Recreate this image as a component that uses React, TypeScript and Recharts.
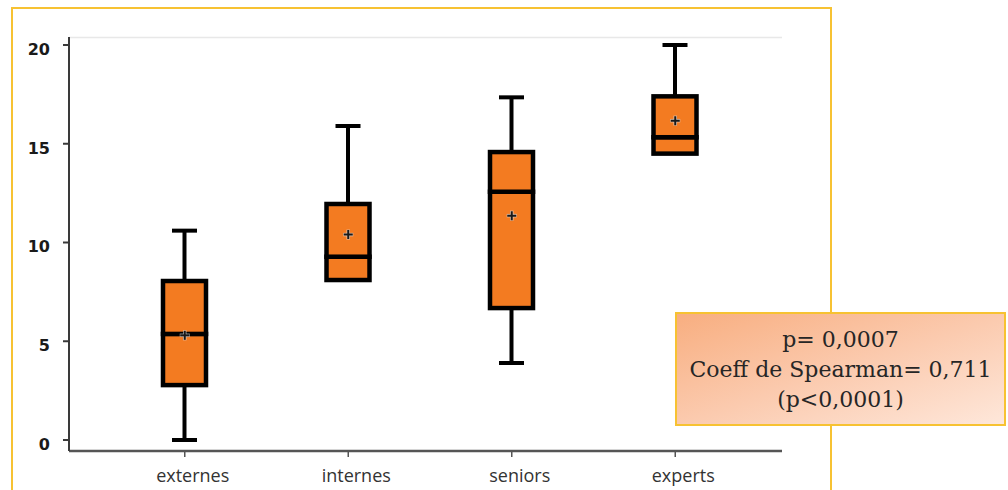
import React from 'react';
import { ComposedChart, Bar, Line, XAxis, YAxis, ReferenceLine } from 'recharts';

const categories = ['externes', 'internes', 'seniors', 'experts'];
const minValues = [0, 8.1, 3.9, 14.5];
const q1Values = [2.78, 8.1, 6.68, 14.5];
const medianValues = [5.37, 9.28, 12.57, 15.33];
const q3Values = [8.05, 11.95, 14.58, 17.4];
const maxValues = [10.6, 15.9, 17.35, 20];
const meanValues = [5.3, 10.4, 11.36, 16.17];
const yTicks = [0, 5, 10, 15, 20];
const annotationLines = ['p= 0,0007', 'Coeff de Spearman= 0,711', '(p<0,0001)'];

const data = categories.map((name, i) => ({
  name,
  base: minValues[i],
  lowWhisker: q1Values[i] - minValues[i],
  lowBox: medianValues[i] - q1Values[i],
  highBox: q3Values[i] - medianValues[i],
  highWhisker: maxValues[i] - q3Values[i],
  mean: meanValues[i],
}));

const BOX_FILL = '#f37b21';
const CAP = 12.5;
const SW = 4.5;

const EmptyShape = () => <g />;

const BoxShape = (props: any) => {
  const { x, y, width, height } = props;
  if (!height || height <= 0) return <g />;
  return <rect x={x} y={y} width={width} height={height} fill={BOX_FILL} stroke="#000" strokeWidth={SW} />;
};

const LowWhiskerShape = (props: any) => {
  const { x, y, width, height } = props;
  if (!height || height <= 0.5) return <g />;
  const cx = x + width / 2;
  return (
    <g>
      <line x1={cx} y1={y} x2={cx} y2={y + height} stroke="#000" strokeWidth={4} />
      <line x1={cx - CAP} y1={y + height} x2={cx + CAP} y2={y + height} stroke="#000" strokeWidth={4} />
    </g>
  );
};

const HighWhiskerShape = (props: any) => {
  const { x, y, width, height } = props;
  if (!height || height <= 0.5) return <g />;
  const cx = x + width / 2;
  return (
    <g>
      <line x1={cx} y1={y} x2={cx} y2={y + height} stroke="#000" strokeWidth={4} />
      <line x1={cx - CAP} y1={y} x2={cx + CAP} y2={y} stroke="#000" strokeWidth={4} />
    </g>
  );
};

const CrossDot = (props: any) => {
  const { cx, cy, index } = props;
  if (cx == null || cy == null) return <g key={`c${index}`} />;
  const s = 5;
  return (
    <g key={`c${index}`}>
      <line x1={cx - s} y1={cy} x2={cx + s} y2={cy} stroke="#ddd" strokeWidth={3.5} opacity={0.7} />
      <line x1={cx} y1={cy - s} x2={cx} y2={cy + s} stroke="#ddd" strokeWidth={3.5} opacity={0.7} />
      <line x1={cx - s + 0.5} y1={cy} x2={cx + s - 0.5} y2={cy} stroke="#1a1a1a" strokeWidth={2} />
      <line x1={cx} y1={cy - s + 0.5} x2={cx} y2={cy + s - 0.5} stroke="#1a1a1a" strokeWidth={2} />
    </g>
  );
};

const YTick = (props: any) => {
  const { x, y, payload } = props;
  return (
    <text x={x} y={y + 10} textAnchor="end" fontFamily="'DejaVu Sans', sans-serif" fontWeight="bold" fontSize={16} fill="#1a1a1a">
      {payload.value}
    </text>
  );
};

const XTick = (props: any) => {
  const { x, y, payload } = props;
  return (
    <text x={x + 8} y={y + 21} textAnchor="middle" fontFamily="'Open Sans', sans-serif" fontSize={18} fill="#333">
      {payload.value}
    </text>
  );
};

export default function App() {
  return (
    <div style={{ position: 'absolute', left: 0, top: 0, width: 1008, height: 490, background: '#fff', overflow: 'hidden' }}>
      <div
        style={{
          position: 'absolute',
          left: 11,
          top: 7,
          width: 821,
          height: 520,
          boxSizing: 'border-box',
          border: '2px solid #f7c232',
        }}
      />
      <div style={{ position: 'absolute', left: 0, top: 0 }}>
        <ComposedChart width={1008} height={490} data={data} margin={{ top: 37, right: 226, bottom: 9, left: 0 }}>
          <ReferenceLine y={20.38} stroke="#e8e8e8" strokeWidth={1.5} />
          <XAxis
            dataKey="name"
            type="category"
            padding={{ left: 34, right: 25 }}
            height={30}
            tickSize={6}
            tickMargin={4}
            interval={0}
            axisLine={{ stroke: '#555', strokeWidth: 2.5 }}
            tickLine={{ stroke: '#555', strokeWidth: 1.5 }}
            tick={<XTick />}
          />
          <YAxis
            type="number"
            domain={[-0.557, 20.405]}
            allowDataOverflow
            ticks={yTicks}
            interval={0}
            width={69}
            tickSize={6}
            tickMargin={13}
            axisLine={{ stroke: '#3a3a3a', strokeWidth: 2 }}
            tickLine={{ stroke: '#3a3a3a', strokeWidth: 2 }}
            tick={<YTick />}
          />
          <Bar dataKey="base" stackId="b" barSize={43} shape={<EmptyShape />} isAnimationActive={false} />
          <Bar dataKey="lowWhisker" stackId="b" barSize={43} shape={<LowWhiskerShape />} isAnimationActive={false} />
          <Bar dataKey="lowBox" stackId="b" barSize={43} shape={<BoxShape />} isAnimationActive={false} />
          <Bar dataKey="highBox" stackId="b" barSize={43} shape={<BoxShape />} isAnimationActive={false} />
          <Bar dataKey="highWhisker" stackId="b" barSize={43} shape={<HighWhiskerShape />} isAnimationActive={false} />
          <Line
            dataKey="mean"
            stroke="none"
            dot={(p: any) => <CrossDot key={`m${p.index}`} {...p} />}
            activeDot={false}
            isAnimationActive={false}
          />
        </ComposedChart>
      </div>
      <div
        style={{
          position: 'absolute',
          left: 675,
          top: 312,
          width: 331,
          height: 114,
          boxSizing: 'border-box',
          border: '2px solid #f7c232',
          background: 'linear-gradient(to bottom right, #f8ae80 0%, #fbcaae 50%, #fee7da 100%)',
          display: 'flex',
          flexDirection: 'column',
          justifyContent: 'center',
          alignItems: 'center',
          fontFamily: "'DejaVu Serif', serif",
          fontSize: 22,
          lineHeight: '30px',
          color: '#262626',
          paddingTop: 2,
        }}
      >
        {annotationLines.map((t) => (
          <div key={t}>{t}</div>
        ))}
      </div>
    </div>
  );
}
